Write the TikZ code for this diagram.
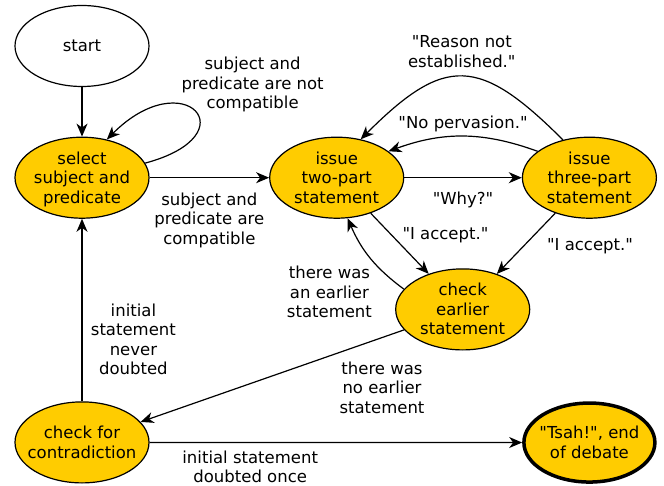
\documentclass[tikz,border=0pt]{standalone}
\usepackage{fontspec}
\setmainfont{DejaVu Sans}
\newfontfamily\dvsans{DejaVu Sans}
\usepackage{tikz}
\usetikzlibrary{positioning,shapes,arrows.meta}

\definecolor{gold}{HTML}{FFCC00}
\newcommand{\lines}[1]{\makebox[0pt]{\raisebox{-6.4pt}[0pt][0pt]{\begin{tabular}{@{}c@{}}#1\end{tabular}}}}

\begin{document}
\begin{tikzpicture}[%
        ->,
        >={Stealth[length=13pt,width=11pt,inset=4pt]},
        line width=1.2pt,
        every node/.style={font=\dvsans\fontsize{16.5}{19.5}\selectfont},
        state/.style={%
          ellipse,
          minimum width=134pt,
          minimum height=81pt,
          inner sep=0pt,
          draw,
          fill=gold
        },
        final/.style={state, line width=3.5pt, minimum width=131pt, minimum height=79pt},
        lbl/.style={align=center}
      ]
      \useasboundingbox (0,0) rectangle (664pt,-486pt);
      \node[state, fill=white] (1) at (82pt,-46pt) {\lines{start}};
      \node[state] (2) [below=49.5pt of 1] {\lines{select\\subject and\\predicate}};
      \node[state] (3) [right=119.5pt of 2] {\lines{issue\\two-part\\statement}};
      \node[state] (4) [right=117.5pt of 3] {\lines{issue\\three-part\\statement}};
      \node[state] (5) [below=49.5pt of 3, xshift=126pt] {\lines{check\\earlier\\statement}};
      \node[state] (6) [below=182.5pt of 2] {\lines{check for\\contradiction}};
      \node[final] (7) [below=182.5pt of 4] {\lines{"Tsah!", end\\of debate}};

      \path (1) edge [] (2)
      (2.13) edge [out=15, in=45, looseness=6.2] node[lbl, pos=0.5, anchor=south west, xshift=-17pt, yshift=-4.5pt] (l1) {subject and\\predicate are not\\compatible} (2.57)
      (2) edge [] node[lbl, below=11pt] (l2) {subject and\\predicate are\\compatible} (3)
      (3) edge [] node[lbl, below=10.5pt] (l3) {"Why?"} (4)
      (4.153) edge [bend right=20] node[lbl, above=1pt] (l4) {"No pervasion."} (3.27)
      (4.125) edge [out=135, in=45, looseness=1.5] node[lbl, above=5pt] (l5) {"Reason not\\established."} (3.58)
      (3) edge [] node[lbl, pos=0.36, right=7pt] (l6) {"I accept."} (5)
      (4) edge [] node[lbl, pos=0.55, right=20pt] (l7) {"I accept."} (5)
      (5.161) edge [bend left=15] node[lbl, pos=0.4, below left=-2pt and 0pt] (l8) {there was\\an earlier\\statement} (3.285)
      (5) edge [] node[lbl, pos=0.26, below right=4pt and 0pt] (l9) {there was\\no earlier\\statement} (6)
      (6) edge [] node[lbl, pos=0.34, right=5pt] (l10) {initial\\statement\\never\\doubted} (2)
      (6) edge [] node[lbl, pos=0.27, below=4.5pt] (l11) {initial statement\\doubted once} (7);

    \end{tikzpicture}
\end{document}
